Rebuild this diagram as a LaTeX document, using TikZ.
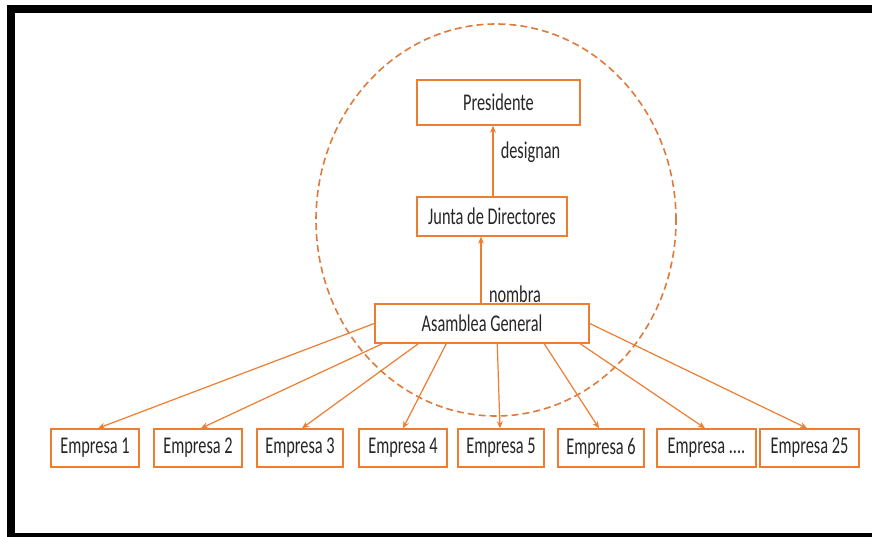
\documentclass[tikz,border=0pt]{standalone}
\usepackage{fontspec}
\setmainfont{Carlito}[FakeStretch=0.68]
\usetikzlibrary{arrows.meta}
\definecolor{org}{RGB}{237,125,49}
\definecolor{dorg}{RGB}{222,122,60}
\definecolor{txt}{RGB}{38,38,38}
\begin{document}
\begin{tikzpicture}[x=1pt,y=-1pt,
  box/.style={draw=org,line width=1.5pt,fill=white,inner sep=0pt,text=txt,font=\fontsize{24}{28}\selectfont},
  arr/.style={draw=org,line width=1.2pt,-{Stealth[length=7pt,width=6pt]}},
  lbl/.style={text=txt,font=\fontsize{24}{28}\selectfont,inner sep=0pt}]
\useasboundingbox (0,0) rectangle (872,537);
\clip (0,0) rectangle (872,537);
\fill[white] (0,0) rectangle (872,537);
\draw[line width=8pt] (11,9.5) rectangle (876,537);
\draw[dorg,line width=1.6pt,dash pattern=on 7pt off 4pt] (496,220) ellipse [x radius=180pt, y radius=196pt];
% top nodes
\node[box,minimum width=163pt,minimum height=45pt] (pres) at (498.5,102.5) {Presidente};
\node[box,minimum width=150pt,minimum height=39pt] (junta) at (492,216.5) {Junta de Directores};
\node[box,minimum width=214pt,minimum height=39pt] (asm) at (482,323.5) {Asamblea General};
% empresas
\node[box,minimum width=88pt,minimum height=38pt] (e1) at (95,448) {Empresa 1};
\node[box,minimum width=88pt,minimum height=38pt] (e2) at (198,448) {Empresa 2};
\node[box,minimum width=86pt,minimum height=38pt] (e3) at (300,448) {Empresa 3};
\node[box,minimum width=88pt,minimum height=38pt] (e4) at (403,448) {Empresa 4};
\node[box,minimum width=86pt,minimum height=38pt] (e5) at (501,448) {Empresa 5};
\node[box,minimum width=86pt,minimum height=38pt] (e6) at (601,448) {Empresa 6};
\node[box,minimum width=99pt,minimum height=38pt] (e7) at (706.5,448) {Empresa ....};
\node[box,minimum width=99pt,minimum height=38pt] (e8) at (809.5,448) {Empresa 25};
% labels
\node[lbl] (lde) at (530.5,152) {designan};
\node[lbl] (lno) at (515,294) {nombra};
% arrows
\draw[arr] ([xshift=1pt]junta.north) -- ([xshift=-5.5pt]pres.south);
\draw[arr] ([xshift=-1pt]asm.north) -- ([xshift=-11pt]junta.south);
\draw[arr] (asm.west) -- ([xshift=3pt]e1.north);
\draw[arr] ([xshift=8pt]asm.south west) -- ([xshift=3pt]e2.north);
\draw[arr] ([xshift=44pt]asm.south west) -- ([xshift=2pt]e3.north);
\draw[arr] ([xshift=72pt]asm.south west) -- (e4.north);
\draw[arr] ([xshift=123pt]asm.south west) -- ([xshift=-1pt]e5.north);
\draw[arr] ([xshift=170pt]asm.south west) -- ([xshift=-2pt]e6.north);
\draw[arr] ([xshift=206pt]asm.south west) -- ([xshift=-1.5pt]e7.north);
\draw[arr] (asm.east) -- ([xshift=-2.5pt]e8.north);
\end{tikzpicture}
\end{document}
